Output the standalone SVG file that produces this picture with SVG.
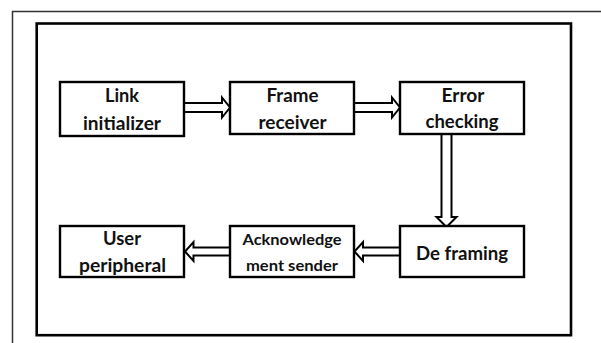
<svg xmlns="http://www.w3.org/2000/svg" width="601" height="343" viewBox="0 0 601 343">
<style>
.box{fill:#fff;stroke:#000;stroke-width:2.4}
.arr{fill:#fff;stroke:#000;stroke-width:2;stroke-linejoin:miter}
.t{font-family:Lato,"Open Sans","Liberation Sans",sans-serif;font-weight:bold;font-size:18.5px;fill:#111;text-anchor:middle}
.s{font-size:15.5px}
</style>
<rect width="601" height="343" fill="#fff"/>
<path d="M12.5 343 V11.5 H601" fill="none" stroke="#333" stroke-width="1.5"/>
<rect x="36.7" y="23.5" width="534.3" height="311.7" fill="none" stroke="#000" stroke-width="2.6"/>
<g id="connectors">
<polygon class="arr" points="184,103 222,103 222,97.5 230,107.5 222,117.5 222,112 184,112"/>
<polygon class="arr" points="354,103 392,103 392,97.5 400,107.5 392,117.5 392,112 354,112"/>
<polygon class="arr" points="441.5,134 441.5,217 436.5,217 446.5,227 456.5,217 451.5,217 451.5,134"/>
<polygon class="arr" points="400,247.5 363,247.5 363,242 354.5,251.5 363,261 363,255.5 400,255.5"/>
<polygon class="arr" points="230,247.5 193.5,247.5 193.5,242 185,251.5 193.5,261 193.5,255.5 230,255.5"/>
</g>
<g id="link-initializer">
<rect class="box" x="60" y="82" width="124" height="54"/>
<text class="t" x="122" y="102" textLength="34" lengthAdjust="spacingAndGlyphs">Link</text>
<text class="t" x="122" y="130" textLength="78" lengthAdjust="spacingAndGlyphs">initializer</text>
</g>
<g id="frame-receiver">
<rect class="box" x="230" y="82" width="124" height="52"/>
<text class="t" x="292.5" y="102" textLength="52" lengthAdjust="spacingAndGlyphs">Frame</text>
<text class="t" x="292.5" y="129" textLength="68" lengthAdjust="spacingAndGlyphs">receiver</text>
</g>
<g id="error-checking">
<rect class="box" x="400" y="82" width="124" height="52"/>
<text class="t" x="463" y="102" textLength="43" lengthAdjust="spacingAndGlyphs">Error</text>
<text class="t" x="462" y="128" textLength="73" lengthAdjust="spacingAndGlyphs">checking</text>
</g>
<g id="de-framing">
<rect class="box" x="400" y="226" width="124" height="51"/>
<text class="t" x="462" y="260" textLength="92" lengthAdjust="spacingAndGlyphs">De framing</text>
</g>
<g id="acknowledgement-sender">
<rect class="box" x="230" y="226" width="124" height="51"/>
<text class="t s" x="292" y="245" textLength="99" lengthAdjust="spacingAndGlyphs">Acknowledge</text>
<text class="t s" x="292" y="271" textLength="92" lengthAdjust="spacingAndGlyphs">ment sender</text>
</g>
<g id="user-peripheral">
<rect class="box" x="60" y="226" width="124" height="51"/>
<text class="t" x="122" y="245" textLength="38" lengthAdjust="spacingAndGlyphs">User</text>
<text class="t" x="122.5" y="272" textLength="87" lengthAdjust="spacingAndGlyphs">peripheral</text>
</g>
</svg>
